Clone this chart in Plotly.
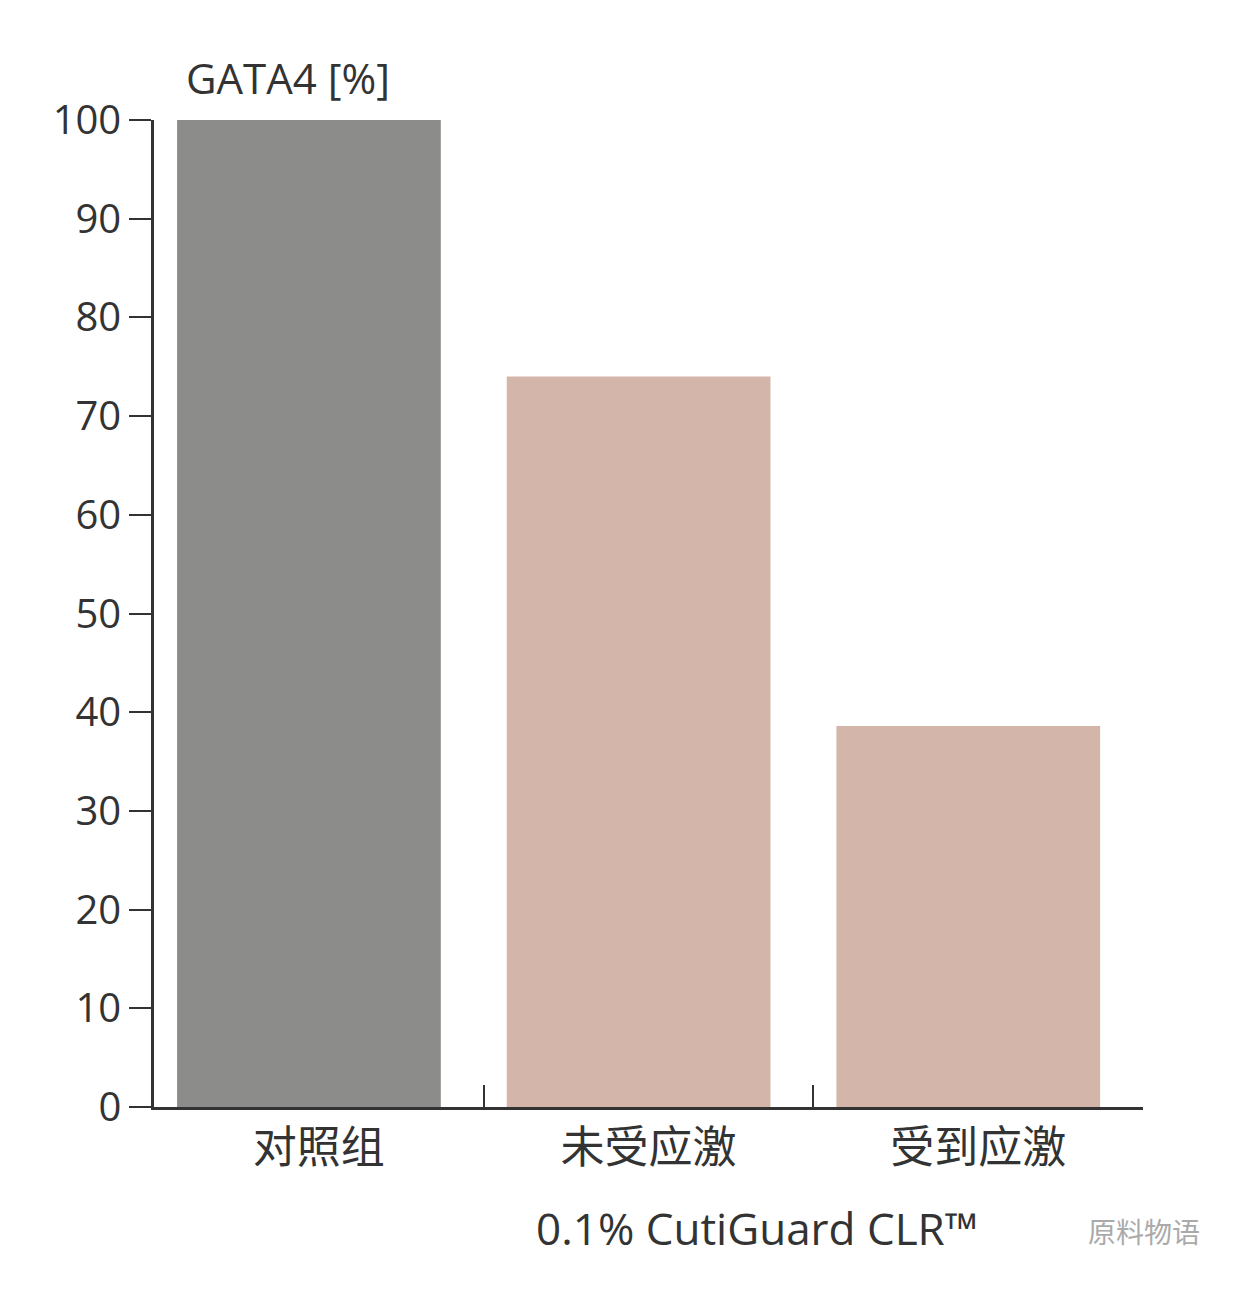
import plotly.graph_objects as go

categories = ["对照组", "未受应激", "受到应激"]
values = [100, 74, 38.6]
bar_colors = ["#8c8c8b", "#d4b5a9", "#d4b5a9"]
y_ticks = [0, 10, 20, 30, 40, 50, 60, 70, 80, 90, 100]

fig = go.Figure(go.Bar(
    x=categories, y=values, marker=dict(color=bar_colors, line=dict(width=0)),
    width=0.8, offset=-0.43,
))

font = "Open Sans, Noto Sans CJK SC, sans-serif"
fig.update_layout(
    width=1236, height=1304,
    margin=dict(l=146, r=101, t=112, b=205),
    paper_bgcolor="white", plot_bgcolor="white",
    showlegend=False,
    font=dict(family=font, color="#333333", size=40),
    xaxis=dict(showline=True, linecolor="#333333", linewidth=2.5,
               ticks="inside", tickson="boundaries", ticklen=22, tickwidth=2,
               tickcolor="#333333", tickfont=dict(size=44, color="#333333"),
               showgrid=False),
    yaxis=dict(range=[0, 100], tickvals=y_ticks, showline=True,
               linecolor="#333333", linewidth=2.5, ticks="outside",
               ticklen=22, tickwidth=2, tickcolor="#333333",
               tickfont=dict(size=40, color="#333333"), showgrid=False,
               zeroline=False),
    annotations=[
        dict(text="GATA4 [%]", x=0.03, y=1.012, xref="paper", yref="paper",
             xanchor="left", yanchor="bottom", showarrow=False,
             font=dict(size=42, color="#333333")),
        dict(text="0.1% CutiGuard CLR™", x=0.61, y=-0.09, xref="paper", yref="paper",
             xanchor="center", yanchor="top", showarrow=False,
             font=dict(size=44, color="#333333")),
        dict(text="原料物语", x=1.06, y=-0.105, xref="paper", yref="paper",
             xanchor="right", yanchor="top", showarrow=False,
             font=dict(size=28, color="#aaaaaa")),
    ],
)

fig.write_html("out.html")
